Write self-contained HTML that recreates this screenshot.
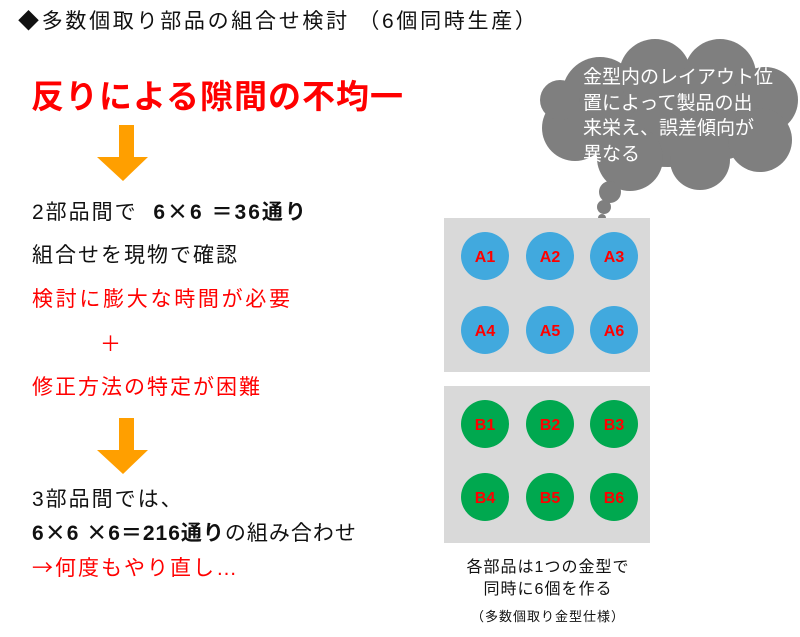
<!DOCTYPE html>
<html><head><meta charset="utf-8"><style>
body{margin:0;width:800px;height:637px;background:#fff;position:relative;overflow:hidden;font-family:"Liberation Sans","Noto Sans CJK JP",sans-serif;}
.t{position:absolute;white-space:nowrap;line-height:1;}
.r{color:#ff0000}
.b{font-size:21px;letter-spacing:2px;}
.x{font-family:"Noto Sans CJK JP",sans-serif;}
</style></head><body>
<div class="t" style="left:18px;top:11px;font-size:21px;letter-spacing:2.7px;color:#111">◆多数個取り部品の組合せ検討 （6個同時生産）</div>
<div class="t r" style="left:31px;top:80px;font-size:33px;letter-spacing:1px;font-weight:bold;">反りによる隙間の不均一</div>
<svg style="position:absolute;left:0;top:0" width="800" height="637">
<polygon points="119,125 134,125 134,157 148,157 123,181 97,157 119,157" fill="#ff9f00"/>
<polygon points="119,418 134,418 134,450 148,450 123,474 97,450 119,450" fill="#ff9f00"/>
<g fill="#7f7f7f">
<ellipse cx="668" cy="115" rx="115" ry="52"/>
<circle cx="600" cy="95" r="38"/><circle cx="655" cy="75" r="36"/><circle cx="720" cy="75" r="36"/>
<circle cx="765" cy="100" r="33"/><circle cx="760" cy="140" r="32"/><circle cx="700" cy="160" r="30"/>
<circle cx="630" cy="158" r="33"/><circle cx="575" cy="128" r="33"/><circle cx="560" cy="100" r="20"/>
<circle cx="610" cy="192" r="11"/><circle cx="604" cy="207" r="7"/><circle cx="602" cy="218" r="4"/>
</g>
<rect x="444" y="218" width="206" height="154" fill="#d9d9d9"/>
<rect x="444" y="386" width="206" height="157" fill="#d9d9d9"/>
<g fill="#41a9de">
<circle cx="485" cy="256" r="24"/><circle cx="550" cy="256" r="24"/><circle cx="614" cy="256" r="24"/>
<circle cx="485" cy="330" r="24"/><circle cx="550" cy="330" r="24"/><circle cx="614" cy="330" r="24"/>
</g>
<g fill="#00a84f">
<circle cx="485" cy="424" r="24"/><circle cx="550" cy="424" r="24"/><circle cx="614" cy="424" r="24"/>
<circle cx="485" cy="497" r="24"/><circle cx="550" cy="497" r="24"/><circle cx="614" cy="497" r="24"/>
</g>
<g fill="#ff0000" font-size="16" font-weight="bold" text-anchor="middle" font-family="Liberation Sans,sans-serif">
<text x="485" y="262">A1</text><text x="550" y="262">A2</text><text x="614" y="262">A3</text>
<text x="485" y="336">A4</text><text x="550" y="336">A5</text><text x="614" y="336">A6</text>
<text x="485" y="430">B1</text><text x="550" y="430">B2</text><text x="614" y="430">B3</text>
<text x="485" y="503">B4</text><text x="550" y="503">B5</text><text x="614" y="503">B6</text>
</g>
</svg>
<div class="t" style="left:583px;top:65px;font-size:19px;color:#fff;line-height:25.5px">金型内のレイアウト位<br>置によって製品の出<br>来栄え、誤差傾向が<br>異なる</div>
<div class="t b" style="left:32px;top:201px;color:#111">2部品間で&nbsp; <b>6<span class="x">×</span>6 ＝36通り</b></div>
<div class="t b" style="left:32px;top:245px;color:#111">組合せを現物で確認</div>
<div class="t b r" style="left:32px;top:289px;letter-spacing:2.7px">検討に膨大な時間が必要</div>
<div class="t b r" style="left:100px;top:334px">＋</div>
<div class="t b r" style="left:32px;top:377px">修正方法の特定が困難</div>
<div class="t b" style="left:32px;top:489px;color:#111">3部品間では、</div>
<div class="t b" style="left:32px;top:522px;color:#111;letter-spacing:1px"><b>6<span class="x">×</span>6 <span class="x">×</span>6＝216通り</b>の組み合わせ</div>
<div class="t b r" style="left:32px;top:557px"><span class="x">→</span>何度もやり直し…</div>
<div class="t" style="left:440px;top:557px;width:216px;text-align:center;font-size:16px;letter-spacing:1px;color:#111;line-height:22px">各部品は1つの金型で<br>同時に6個を作る</div>
<div class="t" style="left:440px;top:610px;width:216px;text-align:center;font-size:13px;letter-spacing:1px;color:#111">（多数個取り金型仕様）</div>
</body></html>
